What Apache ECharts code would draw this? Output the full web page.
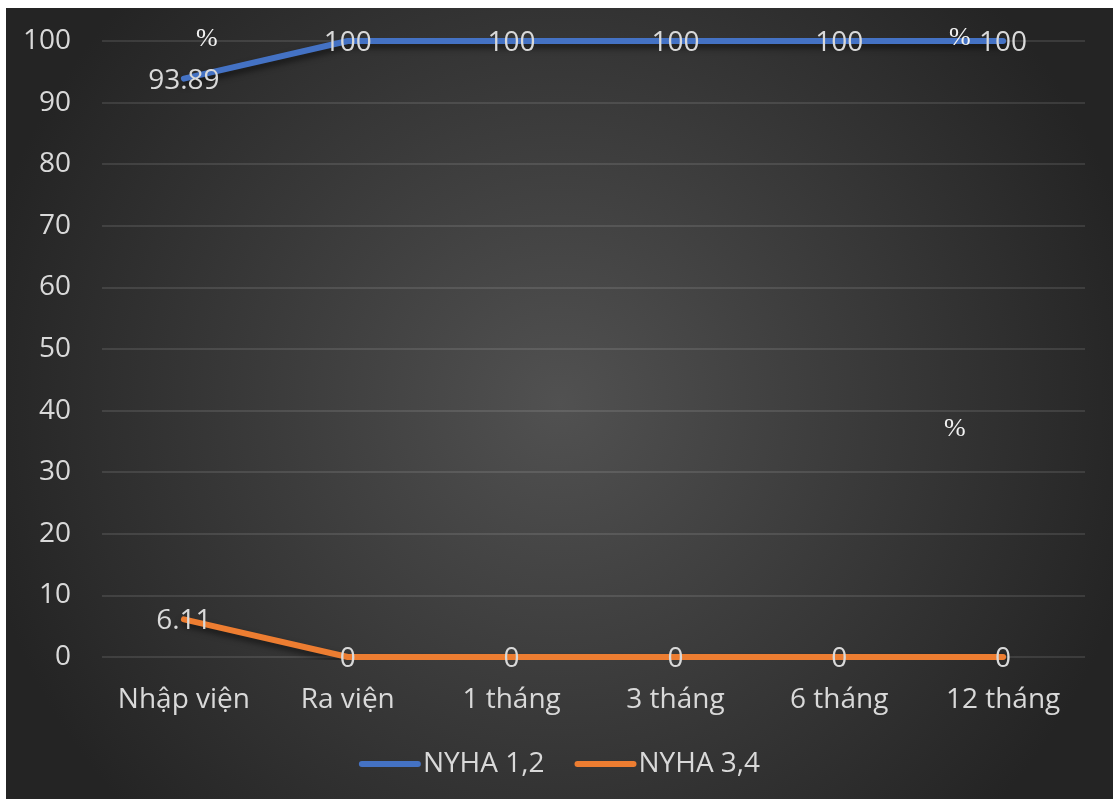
<!DOCTYPE html>
<html>
<head>
<meta charset="utf-8">
<script src="https://cdn.jsdelivr.net/npm/echarts@6/dist/echarts.min.js"></script>
<style>
  html, body { margin: 0; padding: 0; background: #ffffff; }
  #chart { position: absolute; left: 6px; top: 8px; width: 1107px; height: 791px; }
</style>
</head>
<body>
<div id="chart"></div>
<script>
// Follow-up time points
const categories = ['Nhập viện', 'Ra viện', '1 tháng', '3 tháng', '6 tháng', '12 tháng'];
// Share of patients (%) per NYHA group
const nyha12 = [93.89, 100, 100, 100, 100, 100];
const nyha34 = [6.11, 0, 0, 0, 0, 0];
const seriesNames = ['NYHA 1,2', 'NYHA 3,4'];
const yTicks = { min: 0, max: 100, interval: 10 };

const FONT = '"Open Sans", sans-serif';
const TEXT = '#d9d9d9';
const FS = 28;

const chart = echarts.init(document.getElementById('chart'), null, { renderer: 'canvas' });

function lineSeries(name, data, color) {
  return {
    name: name,
    type: 'line',
    data: data,
    symbol: 'circle',
    symbolSize: 1,
    itemStyle: { color: color },
    lineStyle: {
      color: color,
      width: 6,
      cap: 'round',
      join: 'round',
      shadowColor: 'rgba(0,0,0,0.55)',
      shadowBlur: 6,
      shadowOffsetX: 1,
      shadowOffsetY: 4
    },
    label: {
      show: true,
      position: 'inside',
      offset: [0, 2],
      color: TEXT,
      fontFamily: FONT,
      fontSize: FS
    },
    emphasis: { disabled: true },
    z: 3
  };
}

chart.setOption({
  animation: false,
  backgroundColor: {
    type: 'radial', x: 0.5, y: 0.5, r: 0.75,
    colorStops: [
      { offset: 0, color: '#515151' },
      { offset: 1, color: '#242424' }
    ]
  },
  grid: { left: 96, right: 28, top: 33, bottom: 142, containLabel: false },
  legend: {
    data: seriesNames,
    bottom: 16,
    left: 'center',
    itemWidth: 56,
    itemHeight: 14,
    itemGap: 30,
    textStyle: { color: TEXT, fontFamily: FONT, fontSize: FS },
    itemStyle: { opacity: 0 },
    lineStyle: { width: 6, cap: 'round', shadowBlur: 0, shadowOffsetX: 0, shadowOffsetY: 0 }
  },
  xAxis: {
    type: 'category',
    data: categories,
    boundaryGap: true,
    axisLine: { show: false },
    axisTick: { show: false },
    axisLabel: { color: TEXT, fontFamily: FONT, fontSize: FS, margin: 29, interval: 0 }
  },
  yAxis: {
    type: 'value',
    min: yTicks.min,
    max: yTicks.max,
    interval: yTicks.interval,
    axisLine: { show: false },
    axisTick: { show: false },
    axisLabel: { color: TEXT, fontFamily: FONT, fontSize: FS, margin: 31 },
    splitLine: { lineStyle: { color: 'rgba(255,255,255,0.14)', width: 1.5 } }
  },
  graphic: [
    { type: 'text', left: 190, top: 18, z: 10,
      style: { text: '%', fill: '#f2f2f2', font: '26px "Liberation Serif", serif' } },
    { type: 'text', left: 943, top: 17, z: 10,
      style: { text: '%', fill: '#f2f2f2', font: '26px "Liberation Serif", serif' } },
    { type: 'text', left: 938, top: 408, z: 10,
      style: { text: '%', fill: '#f2f2f2', font: '26px "Liberation Serif", serif' } }
  ],
  series: [
    lineSeries(seriesNames[0], nyha12, '#4472c4'),
    lineSeries(seriesNames[1], nyha34, '#ed7d31')
  ]
});
</script>
</body>
</html>
